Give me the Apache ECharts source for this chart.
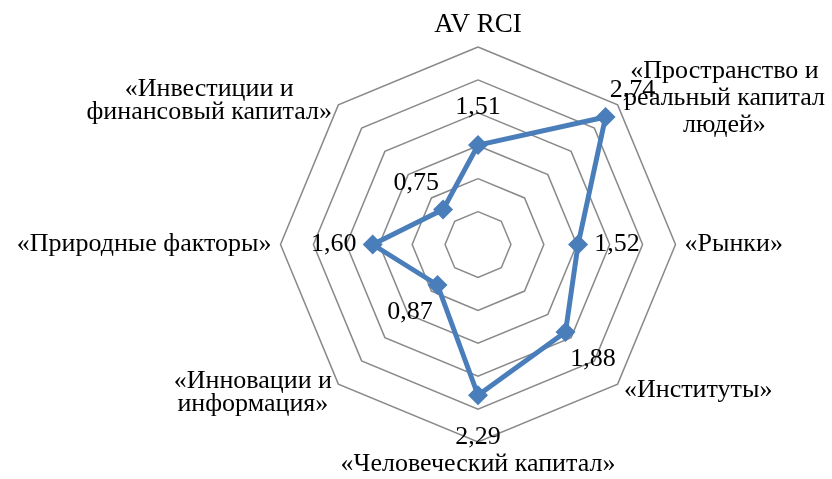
<!DOCTYPE html>
<html><head><meta charset="utf-8">
<script src="https://cdn.jsdelivr.net/npm/echarts@6/dist/echarts.min.js"></script>
<style>html,body{margin:0;padding:0;background:#fff}#c{width:832px;height:479px}</style>
</head><body><div id="c"></div>
<script>
// Indicators listed counterclockwise starting from the top (ECharts radar order)
const indicatorNames = [
  'AV RCI',
  '«Инвестиции и\nфинансовый капитал»',
  '«Природные факторы»',
  '«Инновации и\nинформация»',
  '«Человеческий капитал»',
  '«Институты»',
  '«Рынки»',
  '«Пространство и\nреальный капитал\nлюдей»'
];
const values = [1.51, 0.75, 1.60, 0.87, 2.29, 1.88, 1.52, 2.74];
const axisMax = 3;
const splitCount = 6;

const FONT = 'Liberation Serif';
const BLUE = '#4a7ebb';

function fmt(v) { return v.toFixed(2).replace('.', ','); }

// label shift: radial offset from each point (style only)
const labelDist = [38, 38, 39, 39, 42, 39, 39, 38];
const rich = {};
values.forEach((v, i) => {
  const a = (90 + 45 * i) * Math.PI / 180;
  const dx = labelDist[i] * Math.cos(a);
  const dy = -labelDist[i] * Math.sin(a);
  const pad = [0, 0, 0, 0];
  if (dy > 0) pad[0] = 2 * dy; else pad[2] = -2 * dy;
  if (dx > 0) pad[3] = 2 * dx; else pad[1] = -2 * dx;
  rich['l' + i] = { fontFamily: FONT, fontSize: 26, color: '#000', padding: pad };
});

const chart = echarts.init(document.getElementById('c'), null, { renderer: 'canvas' });
chart.setOption({
  animation: false,
  backgroundColor: '#fff',
  radar: {
    center: [478, 244.5],
    radius: 197.5,
    startAngle: 90,
    splitNumber: splitCount,
    shape: 'polygon',
    nameGap: 9,
    indicator: indicatorNames.map(n => ({ name: n, min: 0, max: axisMax })),
    axisLine: { show: false },
    axisTick: { show: false },
    axisLabel: { show: false },
    splitArea: { show: false },
    splitLine: { lineStyle: { color: '#898989', width: 1.5 } },
    axisName: {
      color: '#000',
      fontFamily: FONT,
      fontSize: 26,
      formatter: function (name) {
        if (name === 'AV RCI') return '{t|' + name + '}';
        const lines = name.split('\n');
        return lines.map((l, k) => (lines.length === 2 && k === 0 ? '{c1|' : '{c|') + l + '}').join('\n');
      },
      rich: {
        t: { fontFamily: FONT, fontSize: 27, color: '#000' },
        c: { fontFamily: FONT, fontSize: 26, color: '#000', align: 'center', lineHeight: 27 },
        c1: { fontFamily: FONT, fontSize: 26, color: '#000', align: 'center', lineHeight: 27, padding: [8, 0, 0, 0] }
      }
    }
  },
  series: [{
    type: 'radar',
    symbol: 'diamond',
    symbolSize: 20,
    lineStyle: { color: BLUE, width: 5 },
    itemStyle: { color: BLUE },
    label: {
      show: true,
      position: 'inside',
      formatter: function (p) {
        const i = values.indexOf(p.value);
        return '{l' + i + '|' + fmt(p.value) + '}';
      },
      rich: rich
    },
    data: [{ value: values }]
  }]
});
</script>
</body></html>
